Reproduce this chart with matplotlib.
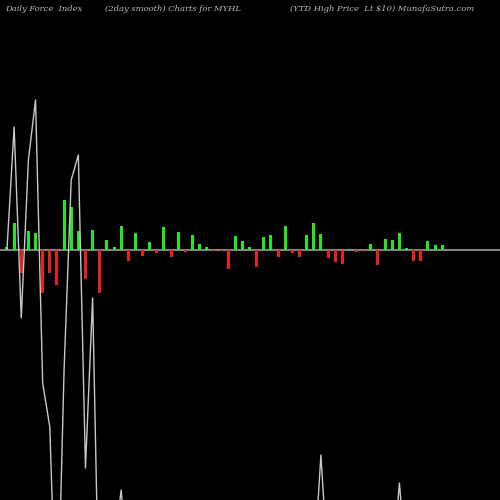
import matplotlib
matplotlib.use("Agg")
import matplotlib.pyplot as plt
import numpy as np

force = [3, 27, -23, 19, 17, -43, -23, -35, 50, 43, 19, -29, 20, -43, 10, 3, 24, -11, 17, -6,
         8, -3, 23, -7, 18, -2, 15, 6, 3, -1, -1, -19, 14, 9, 3, -17, 13, 15, -7, 24,
         -3, -7, 15, 27, 16, -8, -12, -14, 1, -2, -1, 6, -15, 11, 10, 17, 2, -11, -11, 9,
         5, 5]
line = [1, 123, -68, 90, 150, -133, -177, -400, -120, 70, 95, -218, -48, -400, -450, -300,
        -240, -320] + [-400] * 25 + [-320, -205, -320] + [-400] * 8 + [-320, -233, -320] + [-400] * 6

n = len(force)
x = np.arange(n)
fig = plt.figure(figsize=(5, 5), dpi=100, facecolor="black")
ax = fig.add_axes([0, 0, 1, 1], facecolor="black")
ax.set_xlim(-0.98, 69.1)
ax.set_ylim(-250, 250)
ax.axis("off")
ax.axhline(0, color="#808080", lw=1.5, zorder=1)
colors = ["#22e822" if v >= 0 else "#e82020" for v in force]
ax.bar(x, force, width=0.42, color=colors, zorder=2)
ax.plot(np.arange(len(line)), line, color="#c8c8c8", lw=1, zorder=3)

kw = dict(color="#bbbbbb", fontsize=6, family="DejaVu Serif", style="italic", va="top")
fig.text(0.01, 0.99, "Daily Force  Index", **kw)
fig.text(0.21, 0.99, "(2day smooth) Charts for MYHL", **kw)
fig.text(0.58, 0.99, "(YTD High Price  Lt $10) MunafaSutra.com", **kw)
fig.savefig("out.png", dpi=100, facecolor="black")
